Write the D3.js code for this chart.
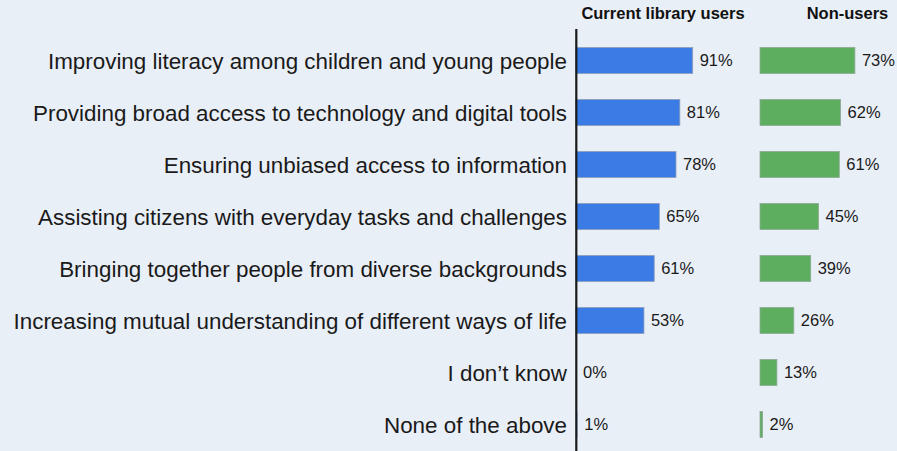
<!DOCTYPE html>
<html>
<head>
<meta charset="utf-8">
<script src="https://cdn.jsdelivr.net/npm/d3@7"></script>
<style>
  html, body { margin: 0; padding: 0; background: #e9eff7; }
  svg { display: block; font-family: "Liberation Sans", Arial, Helvetica, sans-serif; }
</style>
</head>
<body>
<svg id="chart" width="897" height="451"></svg>
<script>
// Survey answers: what libraries contribute, by library use
const categories = [
  "Improving literacy among children and young people",
  "Providing broad access to technology and digital tools",
  "Ensuring unbiased access to information",
  "Assisting citizens with everyday tasks and challenges",
  "Bringing together people from diverse backgrounds",
  "Increasing mutual understanding of different ways of life",
  "I don\u2019t know",
  "None of the above"
];
const currentUsers = [91, 81, 78, 65, 61, 53, 0, 1];
const nonUsers = [73, 62, 61, 45, 39, 26, 13, 2];
const seriesNames = ["Current library users", "Non-users"];

const W = 897, H = 451;
const svg = d3.select("#chart");

const y = d3.scaleBand()
  .domain(categories)
  .range([34.5, 450.5])
  .paddingInner(0.5)
  .paddingOuter(0.25);

// one panel per group, each with its own horizontal scale
const panels = [
  { name: seriesNames[0], values: currentUsers, x0: 576, span: 128.2, color: "#3a7be6", stroke: "#8f9fb8", headX: 663 },
  { name: seriesNames[1], values: nonUsers, x0: 760, span: 130, color: "#5daf5f", stroke: "#8fa896", headX: 847.5 }
];

// category labels
svg.append("g")
  .selectAll("text")
  .data(categories)
  .join("text")
  .attr("x", 567)
  .attr("y", d => y(d) + y.bandwidth() / 2)
  .attr("dy", "0.36em")
  .attr("text-anchor", "end")
  .attr("font-size", 22.4)
  .attr("fill", "#1a1a1a")
  .text(d => d);

panels.forEach(p => {
  const x = d3.scaleLinear().domain([0, 100]).range([p.x0, p.x0 + p.span]);
  const g = svg.append("g");

  g.selectAll("rect")
    .data(p.values)
    .join("rect")
    .attr("x", x(0))
    .attr("y", (d, i) => y(categories[i]))
    .attr("width", d => x(d) - x(0))
    .attr("height", y.bandwidth())
    .attr("fill", p.color)
    .attr("stroke", d => d >= 2 ? p.stroke : "none")
    .attr("stroke-width", 0.8);

  g.selectAll("text.value")
    .data(p.values)
    .join("text")
    .attr("class", "value")
    .attr("x", d => x(d) + 7)
    .attr("y", (d, i) => y(categories[i]) + y.bandwidth() / 2)
    .attr("dy", "0.36em")
    .attr("font-size", 16.5)
    .attr("fill", "#1a1a1a")
    .text(d => d + "%");

  svg.append("text")
    .attr("x", p.headX)
    .attr("y", 19)
    .attr("text-anchor", "middle")
    .attr("font-size", 16.5)
    .attr("font-weight", "bold")
    .attr("fill", "#111")
    .text(p.name);
});

// baseline separating labels from bars, drawn over the bar origins
svg.append("line")
  .attr("x1", 576.3).attr("x2", 576.3)
  .attr("y1", 29).attr("y2", H)
  .attr("stroke", "#1a1a1a")
  .attr("stroke-width", 2.2);
</script>
</body>
</html>
